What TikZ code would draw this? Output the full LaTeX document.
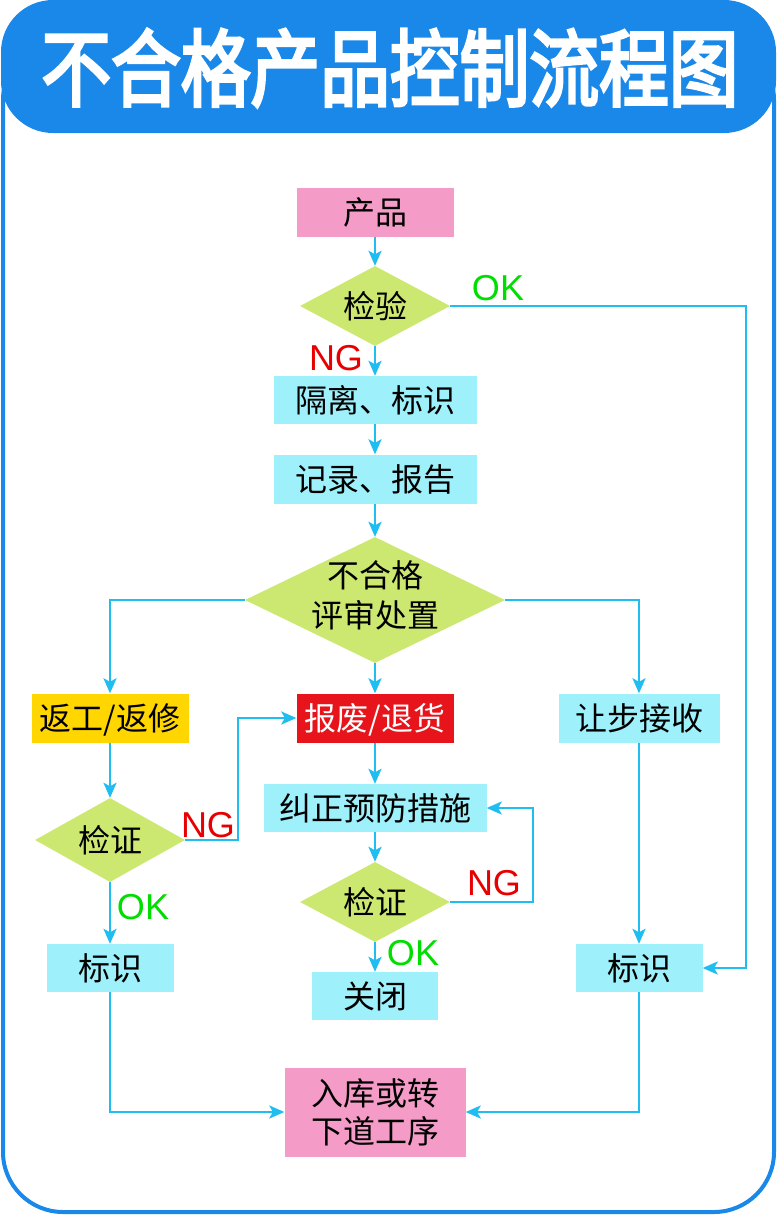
\documentclass[tikz,border=0pt]{standalone}
\usepackage{fontspec}
\setmainfont{Noto Sans CJK SC}
\newfontfamily\titlefont{Noto Sans CJK SC}[FakeBold=4]
\newfontfamily\latinfont{Liberation Sans}
\usetikzlibrary{shapes.geometric,arrows.meta}
\definecolor{frameblue}{RGB}{26,136,232}
\definecolor{boxpink}{RGB}{245,155,200}
\definecolor{diagreen}{RGB}{204,232,112}
\definecolor{boxcyan}{RGB}{158,240,250}
\definecolor{boxyellow}{RGB}{255,214,0}
\definecolor{boxred}{RGB}{232,20,28}
\definecolor{arrcol}{RGB}{32,190,240}
\definecolor{okgreen}{RGB}{0,222,0}
\definecolor{ngred}{RGB}{232,0,0}
\tikzset{
  box/.style={rectangle, inner sep=0pt, text height=28pt, text depth=4pt,
    font=\fontsize{32}{40}\selectfont, align=center},
  dia/.style={diamond, aspect=2, inner sep=0pt, fill=diagreen, text height=28pt, text depth=4pt,
    font=\fontsize{32}{40}\selectfont},
  txt/.style={inner sep=0pt, text height=28pt, text depth=4pt,
    font=\fontsize{32}{40}\selectfont, align=center},
  twoline/.style={text height=66pt, text depth=4pt},
  arr/.style={draw=arrcol, line width=2.4pt, -{Stealth[length=15pt,width=13pt,inset=3.5pt]}},
  oklab/.style={text=okgreen, font=\latinfont\fontsize{36}{36}\selectfont, inner sep=0pt},
  nglab/.style={text=ngred, font=\latinfont\fontsize{36}{36}\selectfont, inner sep=0pt}
}
\begin{document}
\begin{tikzpicture}[x=1pt,y=-1pt]
\useasboundingbox (0,0) rectangle (777,1215);
\fill[white] (0,0) rectangle (777,1215);
% frame and header
\draw[frameblue, line width=4pt, rounded corners=60pt] (3,40) rectangle (774,1212);
\fill[frameblue, rounded corners=52pt] (1,0) rectangle (776,133);
\node[text=white, font=\titlefont\fontsize{84}{84}\selectfont, xscale=0.83, inner sep=0pt] (title) at (390,68) {不合格产品控制流程图};

% nodes
\node[box, fill=boxpink, minimum width=157, minimum height=49] (prod) at (375,212) {产品};
\node[dia, minimum width=150, minimum height=80] (insp) at (375,306) {检验};
\node[box, fill=boxcyan, minimum width=203, minimum height=48] (isol) at (375,400) {隔离、标识};
\node[box, fill=boxcyan, minimum width=203, minimum height=49] (rec) at (375,479) {记录、报告};
\node[dia, minimum width=260, minimum height=126] (review) at (375,600) {};
\node[txt, twoline] (reviewtxt) at (375,596) {不合格\\评审处置};
\node[box, fill=boxyellow, minimum width=157, minimum height=49] (rework) at (110,718) {返工/返修};
\node[box, fill=boxred, text=white, minimum width=157, minimum height=49] (scrap) at (375,718) {报废/退货};
\node[box, fill=boxcyan, minimum width=161, minimum height=49] (concess) at (639,718) {让步接收};
\node[dia, minimum width=150, minimum height=84] (chkL) at (110,840) {检证};
\node[box, fill=boxcyan, minimum width=223, minimum height=48] (corr) at (375,808) {纠正预防措施};
\node[dia, minimum width=150, minimum height=80] (chkC) at (375,902) {检证};
\node[box, fill=boxcyan, minimum width=127, minimum height=48] (markL) at (110,968) {标识};
\node[box, fill=boxcyan, minimum width=126, minimum height=48] (close) at (375,996) {关闭};
\node[box, fill=boxcyan, minimum width=127, minimum height=48] (markR) at (639,968) {标识};
\node[box, twoline, fill=boxpink, minimum width=181, minimum height=89, font=\fontsize{32}{38}\selectfont] (final) at (375,1112) {入库或转\\下道工序};

% labels
\node[oklab] (okTop) at (498,288) {OK};
\node[nglab] (ngTop) at (336,358) {NG};
\node[nglab] (ngL) at (208,825) {NG};
\node[oklab] (okL) at (143,907) {OK};
\node[nglab] (ngC) at (494,883) {NG};
\node[oklab] (okC) at (413,953) {OK};

% turning points
\coordinate (okturn) at (746,600);
\coordinate (ngLturn) at (238,780);
\coordinate (ngCturn) at (533,850);

% connectors
\draw[arr] (prod.south) -- (insp.north);
\draw[arr] (insp.south) -- (isol.north);
\draw[arr] (insp.east) -| (okturn) |- (markR.east);
\draw[arr] (isol.south) -- (rec.north);
\draw[arr] (rec.south) -- (review.north);
\draw[arr] (review.west) -| (rework.north);
\draw[arr] (review.south) -- (scrap.north);
\draw[arr] (review.east) -| (concess.north);
\draw[arr] (rework.south) -- (chkL.north);
\draw[arr] (chkL.east) -| (ngLturn) |- (scrap.west);
\draw[arr] (chkL.south) -- (markL.north);
\draw[arr] (scrap.south) -- (corr.north);
\draw[arr] (corr.south) -- (chkC.north);
\draw[arr] (chkC.east) -| (ngCturn) |- (corr.east);
\draw[arr] (chkC.south) -- (close.north);
\draw[arr] (concess.south) -- (markR.north);
\draw[arr] (markL.south) |- (final.west);
\draw[arr] (markR.south) |- (final.east);
\end{tikzpicture}
\end{document}
